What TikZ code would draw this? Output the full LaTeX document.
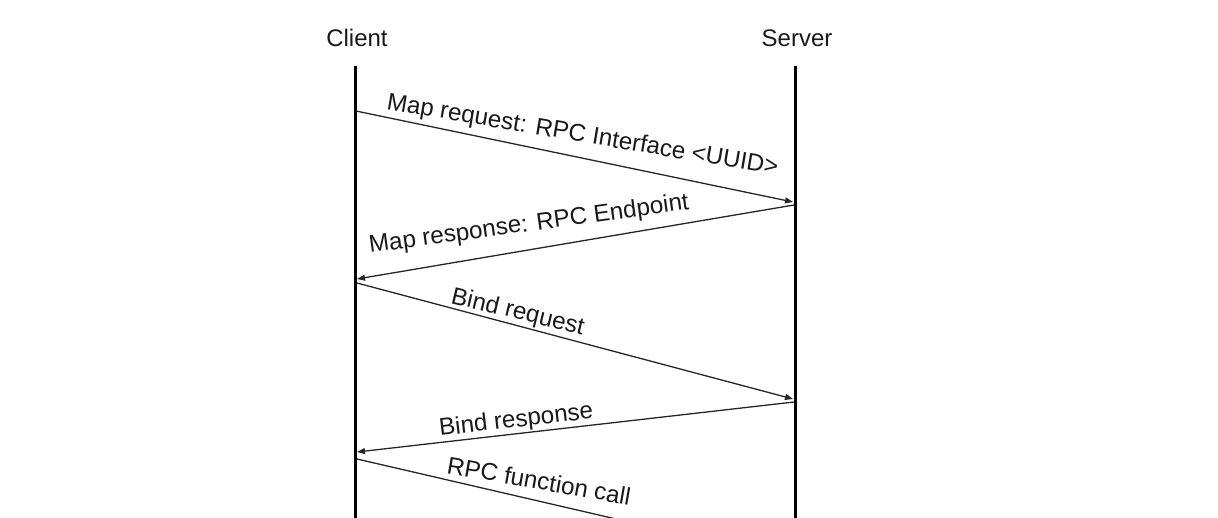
\documentclass[tikz,border=0pt]{standalone}
\usepackage{fontspec}
\setmainfont{Liberation Sans}
\usetikzlibrary{arrows.meta}
\begin{document}
\begin{tikzpicture}[x=1pt,y=-1pt,
  lifeline/.style={line width=3pt, black},
  msg/.style={line width=1.3pt, draw=black!85, -{Triangle[length=8pt,width=6pt]}},
  lbl/.style={anchor=base west, inner sep=0pt, font=\fontsize{24.2}{28}\selectfont, text=black!90},
  head/.style={font=\fontsize{24}{28}\selectfont, text=black!90}
]
\useasboundingbox (0,0) rectangle (1218,518);
\clip (0,0) rectangle (1218,518);
\node[head] (client) at (357,38) {Client};
\node[head] (server) at (797,38) {Server};
\coordinate (ctop) at (355,66);
\coordinate (cbot) at (355,530);
\coordinate (stop) at (795,66);
\coordinate (sbot) at (795,530);
\draw[lifeline] (ctop) -- (cbot);
\draw[lifeline] (stop) -- (sbot);
% message endpoints
\coordinate (m1s) at (356,111);
\coordinate (m1e) at (793,202);
\coordinate (m2s) at (794,205);
\coordinate (m2e) at (357,279);
\coordinate (m3s) at (357,283);
\coordinate (m3e) at (793,399);
\coordinate (m4s) at (794,402);
\coordinate (m4e) at (357,452);
\coordinate (m5s) at (357,459);
\coordinate (m5e) at (793,560);
\draw[msg] (m1s) -- (m1e);
\draw[msg] (m2s) -- (m2e);
\draw[msg] (m3s) -- (m3e);
\draw[msg] (m4s) -- (m4e);
\draw[msg] (m5s) -- (m5e);
% labels
\node[lbl, rotate=-9.6] (l1) at (386,109) {Map request: RPC Interface <UUID>};
\node[lbl, rotate=7.8] (l2) at (370,253) {Map response: RPC Endpoint};
\node[lbl, rotate=-13.5] (l3) at (450,303) {Bind request};
\node[lbl, rotate=6.6] (l4) at (440,436) {Bind response};
\node[lbl, rotate=-10] (l5) at (446,473) {RPC function call};
\end{tikzpicture}
\end{document}
